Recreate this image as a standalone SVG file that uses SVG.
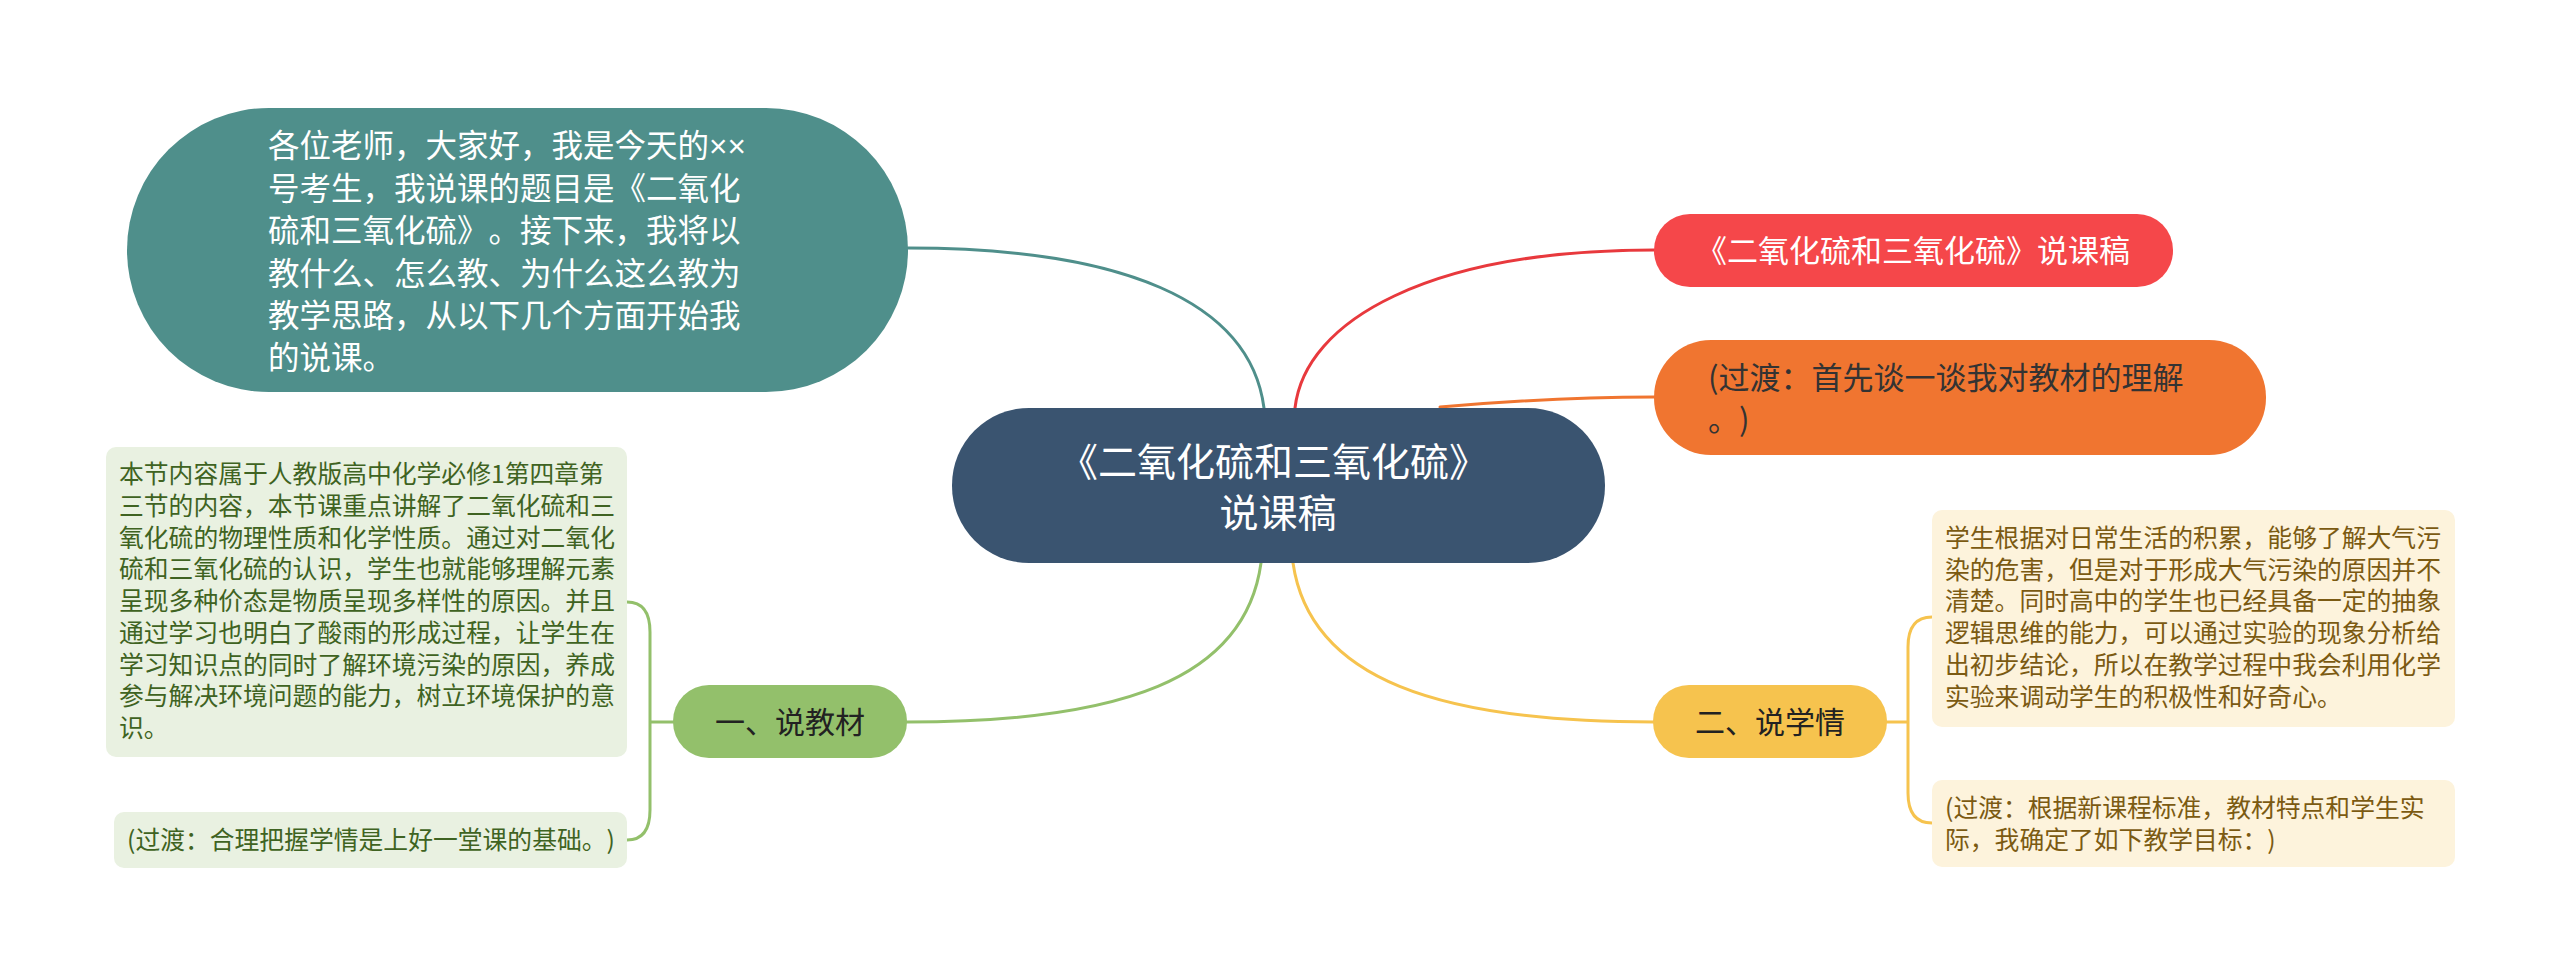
<svg xmlns="http://www.w3.org/2000/svg" width="2560" height="975" viewBox="0 0 2560 975">
<style>
text{font-family:"Noto Sans CJK SC","Noto Sans",sans-serif;text-spacing-trim:space-all;}
.conn{fill:none;stroke-width:3;stroke-linecap:round;}
.w{fill:#ffffff;}
.dk{fill:#222222;}
.gt{fill:#3f6322;font-size:24.8px;}
.yt{fill:#7b5a12;font-size:24.8px;}
.lat{font-family:"Liberation Sans",sans-serif;}
</style>
<rect width="2560" height="975" fill="#ffffff"/>
<g id="connectors">
<path class="conn" stroke="#4f8f8b" d="M1264,408 C1250,300 1120,248 908,248"/>
<path class="conn" stroke="#e8393d" d="M1295,408 C1305,320 1430,250 1654,250"/>
<path class="conn" stroke="#f07530" d="M1440,407 C1520,400 1580,397 1654,397"/>
<path class="conn" stroke="#93c06b" d="M1261,563 C1245,680 1120,722 907,722"/>
<path class="conn" stroke="#f6c34e" d="M1293,563 C1310,680 1440,722 1654,722"/>
<path class="conn" stroke="#93c06b" d="M673,722 L650,722 M627,602 Q650,602 650,632 L650,810 Q650,840 627,840"/>
<path class="conn" stroke="#f6c34e" d="M1887,722 L1908,722 M1932,617 Q1908,617 1908,647 L1908,793 Q1908,823 1932,823"/>
</g>
<g id="node-intro">
<rect x="127" y="108" width="781" height="284" rx="142" fill="#4f8f8b"/>
<text class="w" font-size="31.5">
<tspan x="268" y="157">各位老师，大家好，我是今天的<tspan class="lat">××</tspan></tspan>
<tspan x="268" y="200">号考生，我说课的题目是《二氧化</tspan>
<tspan x="268" y="242">硫和三氧化硫》。接下来，我将以</tspan>
<tspan x="268" y="285">教什么、怎么教、为什么这么教为</tspan>
<tspan x="268" y="327">教学思路，从以下几个方面开始我</tspan>
<tspan x="268" y="369">的说课。</tspan>
</text>
</g>
<g id="node-center">
<rect x="952" y="408" width="653" height="155" rx="77" fill="#3a5470"/>
<text class="w" font-size="39" text-anchor="middle">
<tspan x="1278" y="476">《二氧化硫和三氧化硫》</tspan>
<tspan x="1278" y="527">说课稿</tspan>
</text>
</g>
<g id="node-title">
<rect x="1654" y="214" width="519" height="73" rx="36" fill="#f5474a"/>
<text class="w" font-size="31" text-anchor="middle" x="1913" y="262">《二氧化硫和三氧化硫》说课稿</text>
</g>
<g id="node-transition1">
<rect x="1654" y="340" width="612" height="115" rx="57" fill="#f07530"/>
<text fill="#333333" font-size="31">
<tspan x="1708" y="389">(过渡：首先谈一谈我对教材的理解</tspan>
<tspan x="1708" y="431">。)</tspan>
</text>
</g>
<g id="node-jiaocai">
<rect x="673" y="685" width="234" height="73" rx="36" fill="#93c06b"/>
<text class="dk" font-size="30" text-anchor="middle" x="790" y="733">一、说教材</text>
</g>
<g id="node-xueqing">
<rect x="1653" y="685" width="234" height="73" rx="36" fill="#f6c34e"/>
<text class="dk" font-size="30" text-anchor="middle" x="1770" y="733">二、说学情</text>
</g>
<g id="node-jiaocai-detail">
<rect x="106" y="447" width="521" height="310" rx="10" fill="#e9f1e1"/>
<text class="gt">
<tspan x="119" y="483">本节内容属于人教版高中化学必修1第四章第</tspan>
<tspan x="119" y="515">三节的内容，本节课重点讲解了二氧化硫和三</tspan>
<tspan x="119" y="547">氧化硫的物理性质和化学性质。通过对二氧化</tspan>
<tspan x="119" y="578">硫和三氧化硫的认识，学生也就能够理解元素</tspan>
<tspan x="119" y="610">呈现多种价态是物质呈现多样性的原因。并且</tspan>
<tspan x="119" y="642">通过学习也明白了酸雨的形成过程，让学生在</tspan>
<tspan x="119" y="674">学习知识点的同时了解环境污染的原因，养成</tspan>
<tspan x="119" y="705">参与解决环境问题的能力，树立环境保护的意</tspan>
<tspan x="119" y="737">识。</tspan>
</text>
</g>
<g id="node-jiaocai-transition">
<rect x="114" y="812" width="513" height="56" rx="10" fill="#e9f1e1"/>
<text class="gt" x="127" y="849">(过渡：合理把握学情是上好一堂课的基础。)</text>
</g>
<g id="node-xueqing-detail">
<rect x="1932" y="510" width="523" height="217" rx="10" fill="#fdf3dc"/>
<text class="yt">
<tspan x="1945" y="547">学生根据对日常生活的积累，能够了解大气污</tspan>
<tspan x="1945" y="579">染的危害，但是对于形成大气污染的原因并不</tspan>
<tspan x="1945" y="610">清楚。同时高中的学生也已经具备一定的抽象</tspan>
<tspan x="1945" y="642">逻辑思维的能力，可以通过实验的现象分析给</tspan>
<tspan x="1945" y="674">出初步结论，所以在教学过程中我会利用化学</tspan>
<tspan x="1945" y="706">实验来调动学生的积极性和好奇心。</tspan>
</text>
</g>
<g id="node-xueqing-transition">
<rect x="1932" y="780" width="523" height="87" rx="10" fill="#fdf3dc"/>
<text class="yt">
<tspan x="1945" y="817">(过渡：根据新课程标准，教材特点和学生实</tspan>
<tspan x="1945" y="849">际，我确定了如下教学目标：)</tspan>
</text>
</g>
</svg>
